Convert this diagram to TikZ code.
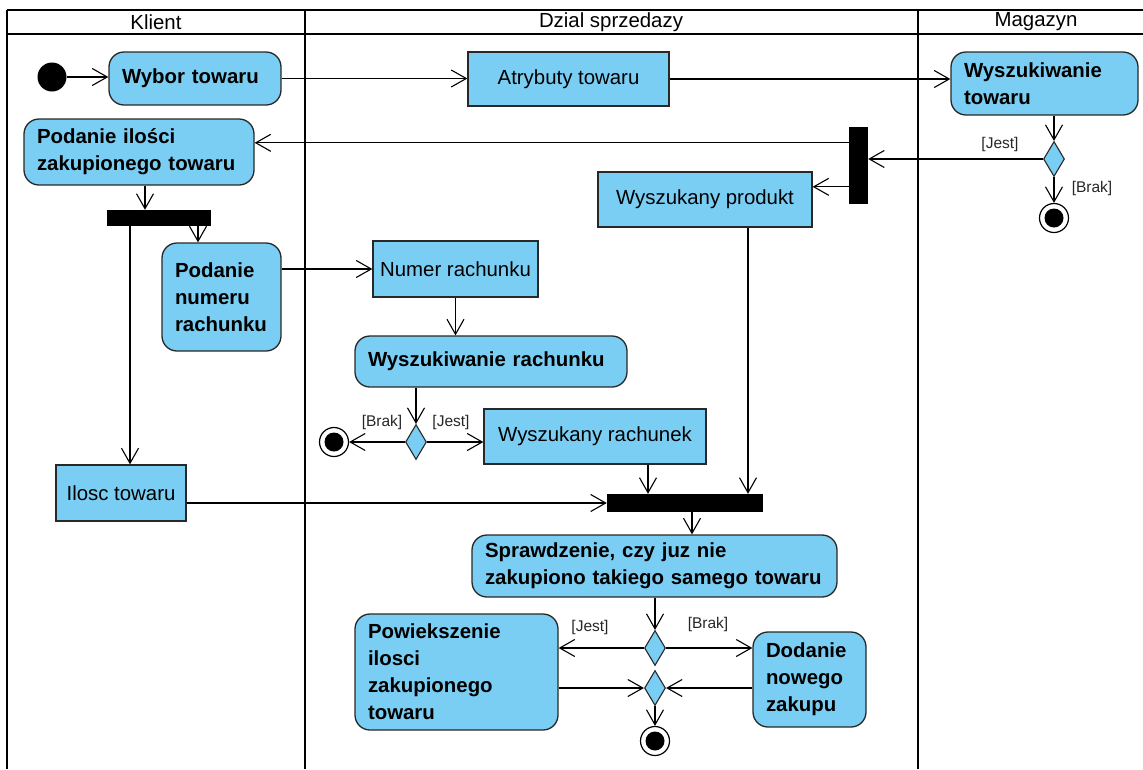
\documentclass[tikz,border=0pt]{standalone}
\usepackage{fontspec}
\setmainfont{Liberation Sans}
\usepackage{tikz}
\usetikzlibrary{arrows.meta,shapes.geometric,calc}
\definecolor{niebieski}{RGB}{122,206,243}
\definecolor{ramka}{RGB}{40,40,40}
\tikzset{
  akcja/.style={draw=ramka, line width=1.3pt, fill=niebieski, rounded corners=15pt,
    font=\fontsize{20.4pt}{27pt}\selectfont\bfseries, align=left,
    inner xsep=13pt, inner ysep=3pt, text width=#1},
  obiekt/.style={draw=ramka, line width=1.3pt, fill=niebieski,
    font=\fontsize{20.4pt}{27pt}\selectfont, align=center, inner sep=0pt},
  belka/.style={fill=black, inner sep=0pt},
  decyzja/.style={diamond, draw=ramka, line width=1.1pt, fill=niebieski,
    inner sep=0pt, minimum width=21pt, minimum height=35pt},
  poczatek/.style={circle, fill=black, inner sep=0pt, minimum size=29pt},
  koniec/.style={circle, draw=black, line width=1.2pt, fill=white, inner sep=0pt,
    minimum size=29pt,
    path picture={\fill[black] (path picture bounding box.center) circle (9.5pt);}},
  straz/.style={font=\fontsize{15.5pt}{18pt}\selectfont, inner sep=0pt, text=black!85},
  naglowek/.style={font=\fontsize{20.4pt}{24pt}\selectfont, inner sep=0pt},
  przejscie/.style={line width=1.1pt, -{Straight Barb[length=15pt,width=17pt]}},
  tor/.style={line width=2.6pt}
}

\begin{document}
\begin{tikzpicture}[x=1pt,y=-1pt]
\useasboundingbox (0,0) rectangle (1143,769);

% tory
\foreach \x in {7,305,918}
  \draw[tor] (\x,10) -- (\x,769);
\draw[tor] (7,10) -- (1143,10) (7,34) -- (1143,34);
\foreach \x/\nazwa in {156/Klient, 611/Dzial sprzedazy, 1036/Magazyn}
  \node[naglowek] (tor-\x) at (\x,22) {\nazwa};

\node[poczatek] (start) at (52,77) {};
\node[akcja=146pt, minimum height=53pt] (wybor) at (195,78.5) {Wybor towaru};
\node[obiekt, minimum width=201pt, minimum height=54pt] (atrybuty) at (568.5,79) {Atrybuty towaru};
\node[akcja=161pt, minimum height=63pt] (wyszTowaru) at (1044.5,83.5) {Wyszukiwanie\\towaru};
\node[akcja=204pt, minimum height=66pt] (podanieIlosci) at (139,152) {Podanie ilości\\zakupionego towaru};
\node[belka, minimum width=19pt, minimum height=77pt] (forkMag) at (858.5,165.5) {};
\node[decyzja] (decMag) at (1054,159) {};
\node[koniec] (koniecMag) at (1054,218) {};
\node[obiekt, minimum width=214pt, minimum height=55pt] (produkt) at (705,199.5) {Wyszukany produkt};
\node[belka, minimum width=104pt, minimum height=16pt] (forkKlient) at (159,218) {};
\node[akcja=93pt, minimum height=108pt] (podanieNumeru) at (221.5,297) {Podanie\\numeru\\rachunku};
\node[obiekt, minimum width=165pt, minimum height=56pt] (numer) at (455.5,269) {Numer rachunku};
\node[akcja=246pt, minimum height=51pt] (wyszRachunku) at (491,361.5) {Wyszukiwanie rachunku};
\node[decyzja] (decRach) at (416,442) {};
\node[koniec] (koniecRach) at (334,442) {};
\node[obiekt, minimum width=222pt, minimum height=55pt] (rachunek) at (595,436.5) {Wyszukany rachunek};
\node[obiekt, minimum width=130pt, minimum height=56pt] (ilosc) at (121,493) {Ilosc towaru};
\node[belka, minimum width=156pt, minimum height=18pt] (join) at (685,503) {};
\node[akcja=339pt, minimum height=62pt] (sprawdzenie) at (654.5,566) {Sprawdzenie, czy juz nie\\zakupiono takiego samego towaru};
\node[decyzja] (decZak) at (655,648) {};
\node[decyzja] (merge) at (655,688) {};
\node[koniec] (koniecZak) at (655,741) {};
\node[akcja=177pt, minimum height=116pt] (powiekszenie) at (456.5,672) {Powiekszenie\\ilosci\\zakupionego\\towaru};
\node[akcja=87pt, minimum height=95pt] (dodanie) at (809.5,679.5) {Dodanie\\nowego\\zakupu};

% warunki
\node[straz] (gJestMag) at (1000,144) {[Jest]};
\node[straz] (gBrakMag) at (1092,188) {[Brak]};
\node[straz] (gBrakRach) at (382,422) {[Brak]};
\node[straz] (gJestRach) at (451,422) {[Jest]};
\node[straz] (gJestZak) at (590,627) {[Jest]};
\node[straz] (gBrakZak) at (708,624) {[Brak]};

\draw[przejscie] (start) -- (start -| wybor.west);
\draw[przejscie] (wybor.east) -- (wybor.east -| atrybuty.west);
\draw[przejscie] (atrybuty.east) -- (atrybuty.east -| wyszTowaru.west);
\draw[przejscie] (decMag |- wyszTowaru.south) -- (decMag.north);
\draw[przejscie] (decMag.west) -- (decMag.west -| forkMag.east);
\draw[przejscie] (decMag.south) -- (koniecMag.north);
\draw[przejscie] ([yshift=-16pt]forkMag.north west) -- ([yshift=-16pt]forkMag.north west -| podanieIlosci.east);
\draw[przejscie] ([yshift=-60pt]forkMag.north west) -- ([yshift=-60pt]forkMag.north west -| produkt.east);
\draw[przejscie] ([xshift=6pt]podanieIlosci.south) -- ([xshift=6pt]podanieIlosci.south |- forkKlient.north);
\draw[przejscie] ([xshift=39pt]forkKlient.south) -- ([xshift=39pt]forkKlient.south |- podanieNumeru.north);
\draw[przejscie] ([xshift=-29pt]forkKlient.south) -- ([xshift=-29pt]forkKlient.south |- ilosc.north);
\draw[przejscie] (podanieNumeru.east |- numer.west) -- (numer.west);
\draw[przejscie] (numer.south) -- (numer.south |- wyszRachunku.north);
\draw[przejscie] (decRach |- wyszRachunku.south) -- (decRach.north);
\draw[przejscie] (decRach.west) -- (koniecRach.east);
\draw[przejscie] (decRach.east) -- (decRach.east -| rachunek.west);
\draw[przejscie] ([xshift=53pt]rachunek.south) -- ([xshift=53pt]rachunek.south |- join.north);
\draw[przejscie] ([xshift=43pt]produkt.south) -- ([xshift=43pt]produkt.south |- join.north);
\draw[przejscie] (ilosc.east |- join.west) -- (join.west);
\draw[przejscie] ([xshift=7pt]join.south) -- ([xshift=7pt]join.south |- sprawdzenie.north);
\draw[przejscie] (decZak |- sprawdzenie.south) -- (decZak.north);
\draw[przejscie] (decZak.west) -- (decZak.west -| powiekszenie.east);
\draw[przejscie] (decZak.east) -- (decZak.east -| dodanie.west);
\draw[przejscie] (powiekszenie.east |- merge.west) -- (merge.west);
\draw[przejscie] (dodanie.west |- merge.east) -- (merge.east);
\draw[przejscie] (merge.south) -- (koniecZak.north);
\end{tikzpicture}
\end{document}
